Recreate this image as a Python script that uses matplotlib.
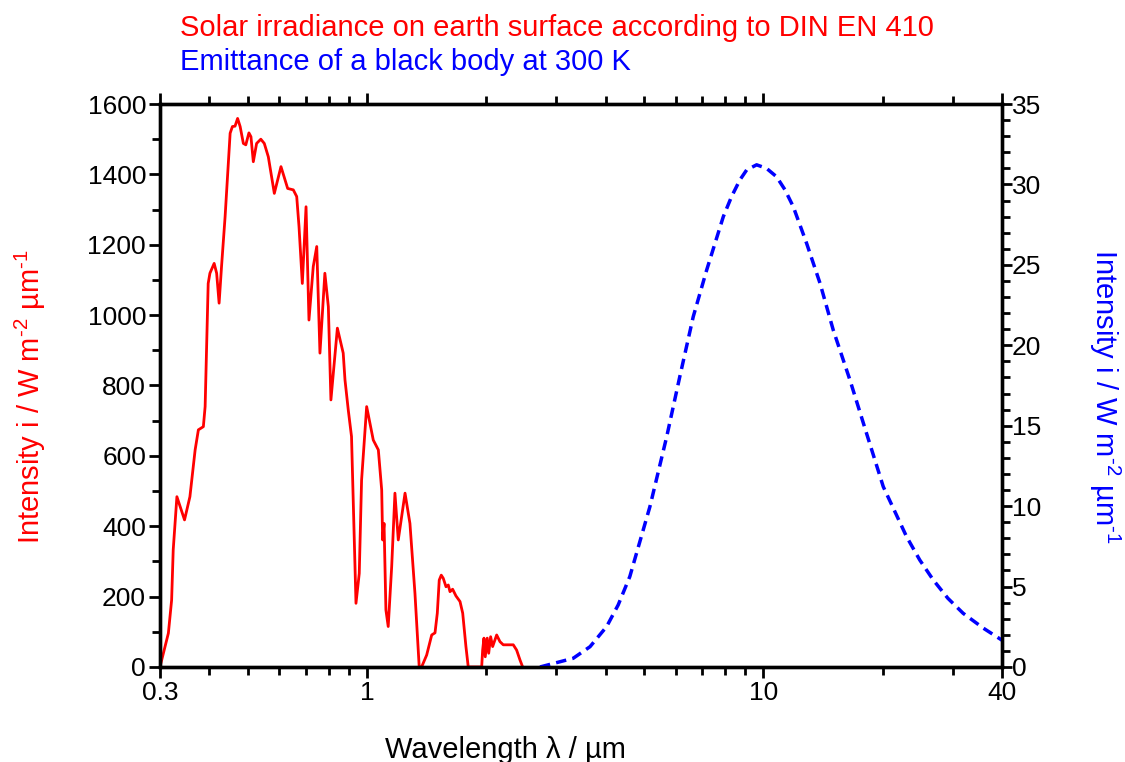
import numpy as np
import matplotlib
matplotlib.use('Agg')
import matplotlib.pyplot as plt
from matplotlib.ticker import FixedLocator, NullFormatter

plt.rcParams['font.family'] = ['Liberation Sans', 'DejaVu Sans']
plt.rcParams['mathtext.fontset'] = 'custom'
plt.rcParams['mathtext.rm'] = 'Liberation Sans'
plt.rcParams['mathtext.it'] = 'Liberation Sans'

#%% data
# solar irradiance (DIN EN 410), wavelength in um, intensity in W m-2 um-1
sol_wl = [0.300, 0.315, 0.321, 0.324, 0.331, 0.346, 0.357, 0.368, 0.375, 0.386,
          0.390, 0.397, 0.401, 0.411, 0.417, 0.423, 0.429, 0.438, 0.451, 0.457,
          0.464, 0.471, 0.478, 0.487, 0.494, 0.503, 0.509, 0.516, 0.526, 0.539,
          0.550, 0.563, 0.583, 0.606, 0.630, 0.651, 0.664, 0.673, 0.686, 0.701,
          0.713, 0.731, 0.746, 0.760, 0.782, 0.798, 0.810, 0.841, 0.870, 0.879,
          0.896, 0.913, 0.937, 0.955, 0.968, 0.997, 1.036, 1.067, 1.088, 1.094,
          1.103, 1.115, 1.130, 1.153, 1.175, 1.198, 1.246, 1.282, 1.320, 1.353,
          1.372, 1.413, 1.455, 1.483, 1.503, 1.520, 1.538, 1.556, 1.581, 1.602,
          1.618, 1.643, 1.675, 1.715, 1.742, 1.775, 1.799, 1.945, 1.956, 1.971,
          1.986, 2.009, 2.026, 2.049, 2.073, 2.122, 2.163, 2.205, 2.270, 2.337,
          2.383, 2.430, 2.468]
sol_int = [0, 96, 190, 333, 484, 418, 484, 617, 674, 683,
           740, 1090, 1119, 1147, 1119, 1034, 1138, 1280, 1517, 1536,
           1537, 1559, 1536, 1488, 1484, 1518, 1507, 1436, 1488, 1500,
           1488, 1450, 1346, 1422, 1360, 1356, 1337, 1251, 1090, 1308,
           986, 1138, 1195, 892, 1119, 1024, 759, 963, 892, 816,
           730, 655, 181, 266, 531, 740, 645, 617, 503, 361,
           408, 162, 115, 285, 494, 361, 494, 408, 209, 0,
           0, 34, 91, 97, 153, 247, 261, 252, 228, 233,
           214, 221, 202, 186, 153, 58, 0, 0, 48, 82,
           29, 82, 39, 86, 58, 91, 72, 63, 63, 63,
           48, 20, 0]

# black body emittance at 300 K
bb_wl = [2.73, 3.31, 3.65, 4.02, 4.30, 4.60, 5.17, 5.70, 6.15, 6.65,
         7.19, 7.92, 8.31, 8.72, 9.07, 9.61, 10.18, 10.79, 11.33, 11.89,
         12.85, 13.89, 15.0, 16.53, 18.2, 20.06, 22.97, 24.8, 26.82, 29.2,
         31.9, 35.9, 39.9, 40.0]
bb_int = [0.0, 0.54, 1.26, 2.51, 3.86, 5.62, 9.97, 14.32, 18.05, 21.78,
          24.68, 28.0, 29.25, 30.28, 30.9, 31.22, 31.0, 30.48, 29.67, 28.62,
          26.34, 23.86, 20.95, 17.84, 14.53, 11.21, 8.10, 6.65, 5.41, 4.27,
          3.34, 2.41, 1.68, 1.66]

x_major = [0.3, 1, 10, 40]
x_labels = ['0.3', '1', '10', '40']
x_minor = [0.4, 0.5, 0.6, 0.7, 0.8, 0.9, 2, 3, 4, 5, 6, 7, 8, 9, 20, 30]

ylab = r'Intensity i / W m$^{\text{-2}}$ µm$^{\text{-1}}$'

#%% plot
fig = plt.figure(figsize=(11.25, 7.62), dpi=100)
ax = fig.add_axes([0.1422, 0.1247, 0.7485, 0.7388])
ax2 = ax.twinx()

ax.plot(sol_wl, sol_int, color='red', lw=2.0)
ax2.plot(bb_wl, bb_int, color='blue', lw=2.5, dashes=(3.0, 1.8))

ax.set_xscale('log')
ax.set_xlim(0.3, 40)
ax.set_ylim(0, 1600)
ax2.set_ylim(0, 35)

ax.xaxis.set_major_locator(FixedLocator(x_major))
ax.set_xticklabels(x_labels)
ax.xaxis.set_minor_locator(FixedLocator(x_minor))
ax.xaxis.set_minor_formatter(NullFormatter())
ax.set_yticks(np.arange(0, 1601, 200))
ax.set_yticks(np.arange(0, 1601, 100), minor=True)
ax2.set_yticks(np.arange(0, 36, 5))
ax2.set_yticks(np.arange(0, 36, 1), minor=True)

for a in (ax, ax2):
    for s in a.spines.values():
        s.set_linewidth(2.4)
ax.tick_params(which='both', direction='out', width=2.0, labelsize=19,
               top=True, pad=2)
ax.tick_params(which='major', length=8)
ax.tick_params(which='minor', length=6)
ax2.tick_params(which='both', direction='out', width=2.0, labelsize=19, pad=0)
ax2.tick_params(which='major', length=7)
ax2.tick_params(which='minor', length=6)

ax.set_xlabel('Wavelength λ / µm', fontsize=21)
ax.xaxis.set_label_coords(0.41, -0.122)
ax.set_ylabel(ylab, color='red', fontsize=21, va='center')
ax.yaxis.set_label_coords(-0.154, 0.48)
ax2.set_ylabel(ylab, color='blue', fontsize=21, rotation=270, va='center')
ax2.yaxis.set_label_coords(1.122, 0.48)

fig.text(0.16, 0.963, 'Solar irradiance on earth surface according to DIN EN 410',
         color='red', fontsize=21, va='center')
fig.text(0.16, 0.919, 'Emittance of a black body at 300 K',
         color='blue', fontsize=21, va='center')

fig.savefig('out.png', dpi=100)
